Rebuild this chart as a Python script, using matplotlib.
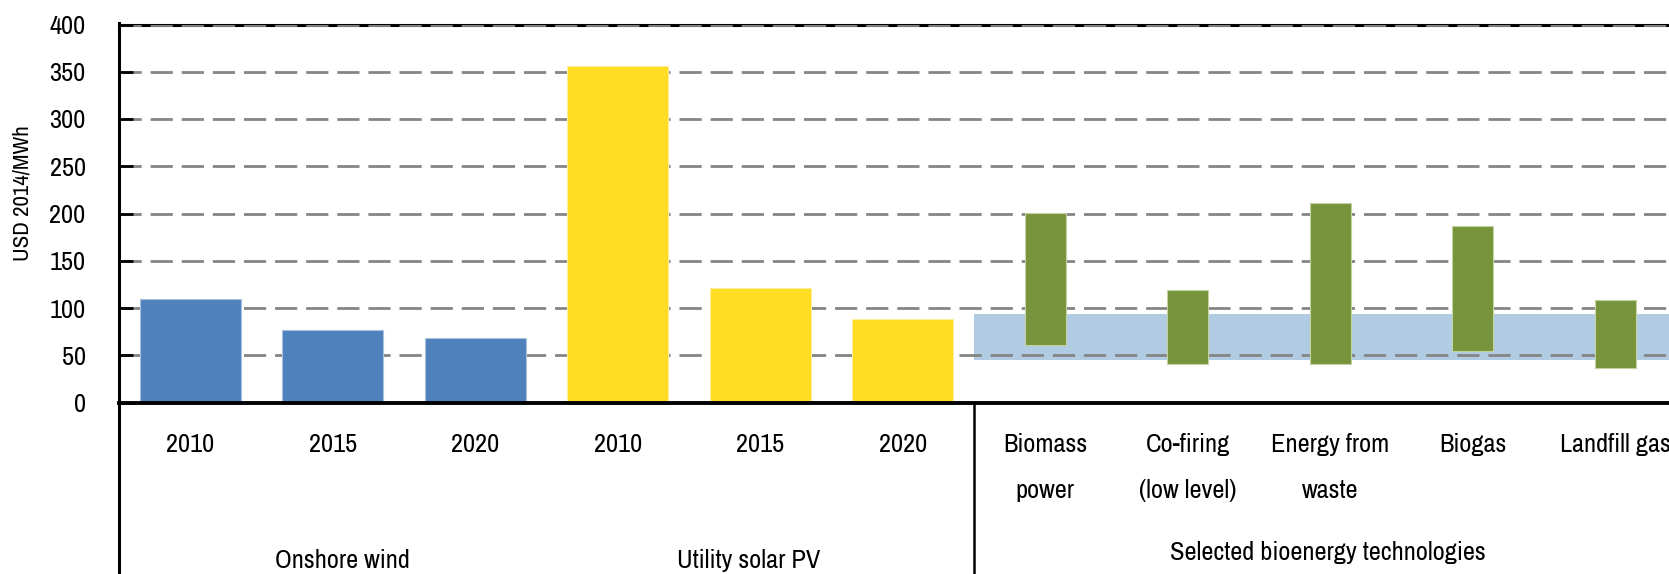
import matplotlib
matplotlib.use("Agg")
import matplotlib.pyplot as plt
import matplotlib.font_manager as fm
from matplotlib.lines import Line2D

# ---- data ----
years = ["2010", "2015", "2020"]
wind_values = [110, 77, 68]
solar_values = [356, 121, 88]
bio_labels = ["Biomass\npower", "Co-firing\n(low level)", "Energy from\nwaste", "Biogas", "Landfill gas"]
bio_low = [61, 41, 41, 54, 37]
bio_high = [200, 119, 211, 187, 108]
band_low, band_high = 45, 94
group_labels = ["Onshore wind", "Utility solar PV", "Selected bioenergy technologies"]
y_ticks = [0, 50, 100, 150, 200, 250, 300, 350, 400]
y_label = "USD 2014/MWh"

# ---- pick a condensed sans font if one is installed ----
def _is_regular(f):
    return f.style == 'normal' and f.weight in (400, 'normal', 'regular', 'book')

def _pick():
    fl = fm.fontManager.ttflist
    prefs = [
        lambda f: f.name == 'Liberation Sans Narrow',
        lambda f: 'Narrow' in f.name,
        lambda f: 'Condensed' in f.name and 'Semi' not in f.name,
        lambda f: f.name == 'DejaVu Sans' and f.stretch == 'condensed',
        lambda f: f.stretch in ('condensed', 'semi-condensed', 'extra-condensed'),
    ]
    for p in prefs:
        for f in fl:
            if p(f) and _is_regular(f):
                return f.fname
    return None

FONT_FILE = _pick()
narrow = FONT_FILE is not None and ('Narrow' in FONT_FILE or 'LiberationSansNarrow' in FONT_FILE)

def fp(size):
    if FONT_FILE:
        return fm.FontProperties(fname=FONT_FILE, size=size)
    return fm.FontProperties(family='DejaVu Sans', size=size)

base = 19 if narrow else 17.5

W, H = 1669, 574
fig = plt.figure(figsize=(W / 100, H / 100), dpi=100)
left_px, right_px, top_px, bot_px = 119, 119 + 11 * 142.5, 24.5, 402.5
ax = fig.add_axes([left_px / W, 1 - bot_px / H, (right_px - left_px) / W, (bot_px - top_px) / H])

blue = "#4F81BD"
yellow = "#FEDD22"
green = "#77933C"
band = "#B1CBE3"

n_wind = len(wind_values)
n_solar = len(solar_values)
n_bio = len(bio_low)
x_wind = list(range(n_wind))
x_solar = list(range(n_wind, n_wind + n_solar))
x_bio = list(range(n_wind + n_solar, n_wind + n_solar + n_bio))

ax.set_xlim(-0.5, n_wind + n_solar + n_bio - 0.5)
ax.set_ylim(0, 400)

sep = n_wind + n_solar - 0.5
ax.fill_between([sep, x_bio[-1] + 0.5], band_low, band_high, color=band, lw=0, zorder=1)

ax.set_yticks(y_ticks)
ax.set_yticklabels([str(t) for t in y_ticks], fontproperties=fp(base))
ax.yaxis.grid(True, color="#858585", lw=2.0, ls=(0, (8, 3.2)), zorder=2)
ax.set_axisbelow(False)
for gl in ax.get_ygridlines():
    gl.set_zorder(2)

ax.bar(x_wind, wind_values, width=0.71, color=blue, edgecolor="#A9C0DF", lw=0.8, zorder=3)
ax.bar(x_solar, solar_values, width=0.71, color=yellow, edgecolor="#FFEF9A", lw=0.8, zorder=3)
ax.bar(x_bio, [h - l for h, l in zip(bio_high, bio_low)], bottom=bio_low, width=0.29,
       color=green, edgecolor="#C2D3A0", lw=0.8, zorder=3)

ax.set_xticks([])
ax.tick_params(axis='y', direction='in', length=10, width=2, color='black', pad=24)
for s in ["left", "right"]:
    ax.spines[s].set_visible(False)
ax.spines["top"].set_linewidth(2.2)
ax.spines["bottom"].set_linewidth(2.8)
ax.spines["bottom"].set_zorder(5)

fig.add_artist(Line2D([left_px / W, left_px / W], [0, 1 - top_px / H + 0.002],
                      transform=fig.transFigure, color='black', lw=2.2))

xt = ax.get_xaxis_transform()
ax.plot([sep, sep], [0, -0.6], transform=xt, color='black', lw=1.8, clip_on=False)

def ypos(px):
    return (bot_px - px) / (bot_px - top_px)

for x, yr in zip(x_wind + x_solar, years + years):
    ax.text(x, ypos(445), yr, transform=xt, ha='center', va='center', fontproperties=fp(base))

for x, lab in zip(x_bio, bio_labels):
    for i, line in enumerate(lab.split("\n")):
        ax.text(x, ypos(445 + 45 * i), line, transform=xt, ha='center', va='center',
                fontproperties=fp(base))

ax.text(1.07, ypos(561), group_labels[0], transform=xt, ha='center', va='center', fontproperties=fp(base))
ax.text(3.92, ypos(561), group_labels[1], transform=xt, ha='center', va='center', fontproperties=fp(base))
ax.text(7.98, ypos(553), group_labels[2], transform=xt, ha='center', va='center', fontproperties=fp(base))

fig.text(23 / W, 1 - 193 / H, y_label, rotation=90, ha='center', va='center',
         fontproperties=fp(base - 2.5))

fig.savefig("out.png", dpi=100)
